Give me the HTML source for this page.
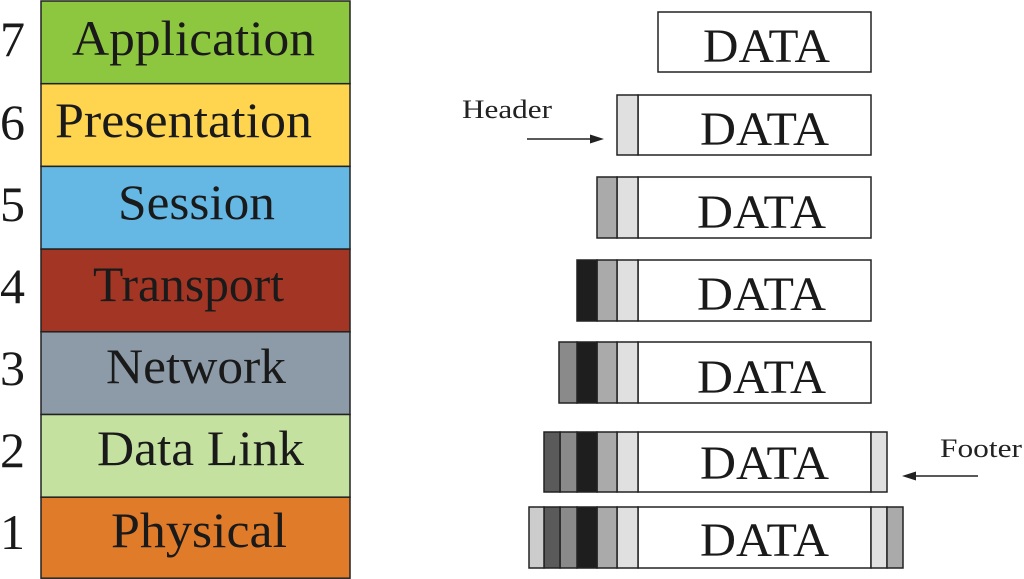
<!DOCTYPE html>
<html><head><style>html,body{margin:0;padding:0;background:#fff;}svg{display:block}</style></head>
<body>
<svg width="1024" height="579" viewBox="0 0 1024 579" xmlns="http://www.w3.org/2000/svg" font-family="Liberation Serif, serif">
<g stroke="#222" stroke-width="1.5">
<rect x="41" y="1" width="309" height="82.7" fill="#8dc63f"/>
<rect x="41" y="83.7" width="309" height="82.7" fill="#ffd54f"/>
<rect x="41" y="166.4" width="309" height="82.7" fill="#65b8e4"/>
<rect x="41" y="249.1" width="309" height="82.7" fill="#a33524"/>
<rect x="41" y="331.8" width="309" height="82.7" fill="#8c9ba7"/>
<rect x="41" y="414.5" width="309" height="82.7" fill="#c5e1a0"/>
<rect x="41" y="497.2" width="309" height="81" fill="#e07b2a"/>
</g>
<g font-size="50" fill="#1a1a1a" lengthAdjust="spacingAndGlyphs">
<text x="72" y="55" textLength="243" lengthAdjust="spacingAndGlyphs">Application</text>
<text x="55" y="137" textLength="257" lengthAdjust="spacingAndGlyphs">Presentation</text>
<text x="118" y="219" textLength="157" lengthAdjust="spacingAndGlyphs">Session</text>
<text x="93" y="301" textLength="191" lengthAdjust="spacingAndGlyphs">Transport</text>
<text x="106" y="383" textLength="180" lengthAdjust="spacingAndGlyphs">Network</text>
<text x="97" y="465" textLength="207" lengthAdjust="spacingAndGlyphs">Data Link</text>
<text x="111" y="547" textLength="176" lengthAdjust="spacingAndGlyphs">Physical</text>
</g>
<g font-size="50" fill="#1a1a1a">
<text x="0" y="56">7</text><text x="0" y="139">6</text><text x="0" y="221">5</text><text x="0" y="303">4</text><text x="0" y="385">3</text><text x="0" y="467">2</text><text x="0" y="549">1</text>
</g>
<g stroke="#222" stroke-width="1.5">
<rect x="658" y="12" width="213" height="60" fill="#fff"/>
<rect x="638" y="95" width="233" height="60" fill="#fff"/>
<rect x="617" y="95" width="21" height="60" fill="#e0e0e0"/>
<rect x="638" y="177" width="233" height="61" fill="#fff"/>
<rect x="617" y="177" width="21" height="61" fill="#e0e0e0"/>
<rect x="597" y="177" width="20" height="61" fill="#aaa"/>
<rect x="638" y="260" width="233" height="61" fill="#fff"/>
<rect x="617" y="260" width="21" height="61" fill="#e0e0e0"/>
<rect x="597" y="260" width="20" height="61" fill="#aaa"/>
<rect x="577" y="260" width="20" height="61" fill="#1e1e1e"/>
<rect x="638" y="342" width="233" height="61" fill="#fff"/>
<rect x="617" y="342" width="21" height="61" fill="#e0e0e0"/>
<rect x="597" y="342" width="20" height="61" fill="#aaa"/>
<rect x="577" y="342" width="20" height="61" fill="#1e1e1e"/>
<rect x="559" y="342" width="18" height="61" fill="#8a8a8a"/>
<rect x="638" y="432" width="233" height="60" fill="#fff"/>
<rect x="617" y="432" width="21" height="60" fill="#e0e0e0"/>
<rect x="597" y="432" width="20" height="60" fill="#aaa"/>
<rect x="577" y="432" width="20" height="60" fill="#1e1e1e"/>
<rect x="560" y="432" width="17" height="60" fill="#8a8a8a"/>
<rect x="544" y="432" width="16" height="60" fill="#5a5a5a"/>
<rect x="871" y="432" width="16" height="60" fill="#e0e0e0"/>
<rect x="638" y="507" width="233" height="61" fill="#fff"/>
<rect x="617" y="507" width="21" height="61" fill="#e0e0e0"/>
<rect x="597" y="507" width="20" height="61" fill="#aaa"/>
<rect x="577" y="507" width="20" height="61" fill="#1e1e1e"/>
<rect x="560" y="507" width="17" height="61" fill="#8a8a8a"/>
<rect x="544" y="507" width="16" height="61" fill="#5a5a5a"/>
<rect x="529" y="507" width="15" height="61" fill="#ccc"/>
<rect x="871" y="507" width="16" height="61" fill="#e0e0e0"/>
<rect x="887" y="507" width="16" height="61" fill="#aaa"/>
</g>
<g font-size="48" fill="#1a1a1a">
<text x="703" y="62" textLength="127" lengthAdjust="spacingAndGlyphs">DATA</text>
<text x="700" y="145" textLength="129" lengthAdjust="spacingAndGlyphs">DATA</text>
<text x="697" y="228" textLength="129" lengthAdjust="spacingAndGlyphs">DATA</text>
<text x="697" y="310" textLength="129" lengthAdjust="spacingAndGlyphs">DATA</text>
<text x="697" y="393" textLength="129" lengthAdjust="spacingAndGlyphs">DATA</text>
<text x="700" y="479" textLength="129" lengthAdjust="spacingAndGlyphs">DATA</text>
<text x="700" y="556" textLength="129" lengthAdjust="spacingAndGlyphs">DATA</text>
</g>
<text x="462" y="118" font-size="26" fill="#222" textLength="90" lengthAdjust="spacingAndGlyphs">Header</text>
<line x1="527" y1="139" x2="592" y2="139" stroke="#222" stroke-width="1.5"/>
<polygon points="604,139 590,134.5 590,143.5" fill="#222"/>
<text x="940" y="457" font-size="26" fill="#222" textLength="82" lengthAdjust="spacingAndGlyphs">Footer</text>
<line x1="915" y1="476" x2="978" y2="476" stroke="#222" stroke-width="1.5"/>
<polygon points="902,476 916,471.5 916,480.5" fill="#222"/>
</svg>
</body></html>
